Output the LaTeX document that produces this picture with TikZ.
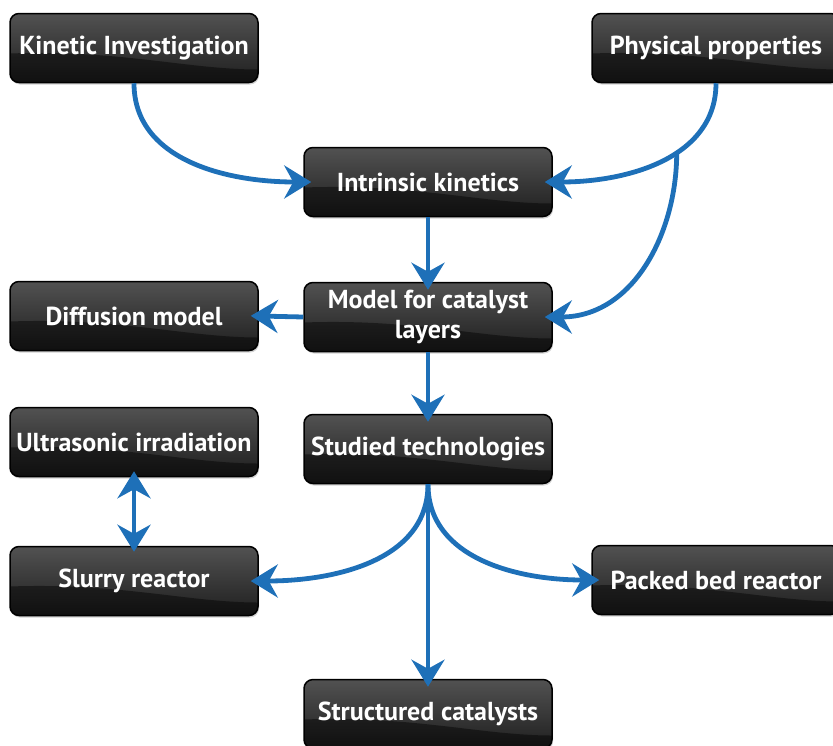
\documentclass[tikz,border=0pt]{standalone}
\usepackage{fontspec}
\setsansfont{PT Sans}
\usetikzlibrary{arrows.meta, shadows}

\definecolor{flowblue}{RGB}{30,112,184}

\begin{document}
\begin{tikzpicture}[
    x=1pt, y=-1pt,
    glossbox/.style={draw=black, line width=1.5pt, rounded corners=9pt,
        top color=black!68, bottom color=black!88,
        minimum width=248pt, minimum height=69pt, inner sep=2pt,
        text=white, align=center,
        font=\sffamily\bfseries\fontsize{26}{30}\selectfont,
        drop shadow={shadow xshift=1pt, shadow yshift=-2pt, opacity=0.35},
        path picture={
            \fill[black, opacity=0.45, sharp corners]
                ([yshift=-40pt]path picture bounding box.north west)
                .. controls +(110pt,4pt) and +(-70pt,0pt) ..
                ([yshift=-56pt]path picture bounding box.north east)
                -- (path picture bounding box.south east)
                -- (path picture bounding box.south west) -- cycle;
        }},
    flow/.style={draw=flowblue, line width=4.8pt,
        -{Stealth[length=27pt, width=33pt, inset=9pt]}, shorten >=-8pt},
    twoway/.style={draw=flowblue, line width=4.8pt,
        {Stealth[length=27pt, width=33pt, inset=9pt]}-{Stealth[length=27pt, width=33pt, inset=9pt]},
        shorten >=-6pt, shorten <=-6pt}
]
    \useasboundingbox (0,0) rectangle (833,745);

    % Boxes
    \node[glossbox] (kin)   at (134,48)  {Kinetic Investigation};
    \node[glossbox] (phys)  at (716,48)  {Physical properties};
    \node[glossbox] (intr)  at (428,182) {Intrinsic kinetics};
    \node[glossbox] (model) at (428,317) {Model for catalyst\\layers};
    \node[glossbox] (diff)  at (134,316) {Diffusion model};
    \node[glossbox] (ultra) at (134,442) {Ultrasonic irradiation};
    \node[glossbox] (stud)  at (428,449) {Studied technologies};
    \node[glossbox] (slurry) at (134,581) {Slurry reactor};
    \node[glossbox] (packed) at (716,580) {Packed bed reactor};
    \node[glossbox] (struct) at (428,714) {Structured catalysts};

    % Connectors
    \draw[flow] (kin.south) to[out=-90, in=180] (intr.west);
    \draw[flow] (phys.south) to[out=-90, in=0] coordinate[pos=0.42] (split) (intr.east);
    \draw[flow] (split) to[out=-90, in=0] (model.east);
    \draw[flow] (intr) -- (model);
    \draw[flow] (model.west) -- (diff.east);
    \draw[flow] (model) -- (stud);
    \draw[twoway] (ultra) -- (slurry);
    \draw[flow] (stud.south) to[out=-90, in=0] (slurry.east);
    \draw[flow] (stud.south) to[out=-90, in=180] (packed.west);
    \draw[flow] (stud) -- (struct);

\end{tikzpicture}
\end{document}
